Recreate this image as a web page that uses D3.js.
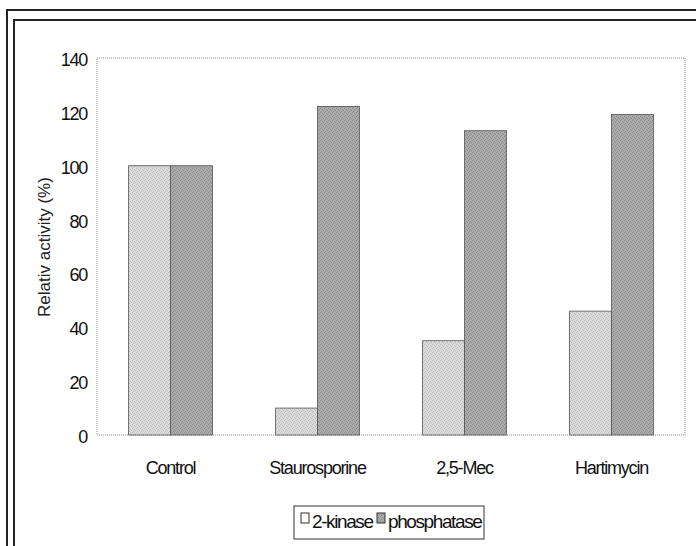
<!DOCTYPE html>
<html>
<head>
<meta charset="utf-8">
<script src="https://cdn.jsdelivr.net/npm/d3@7"></script>
<style>
html,body{margin:0;padding:0;background:#fff;}
svg{display:block;}
</style>
</head>
<body>
<svg id="chart" width="696" height="546"></svg>
<script>
const categories = ["Control", "Staurosporine", "2,5-Mec", "Hartimycin"];
const seriesNames = ["2-kinase", "phosphatase"];
const kinase = [100, 10, 35, 46];
const phosphatase = [100, 122, 113, 119];
const yTicks = [0, 20, 40, 60, 80, 100, 120, 140];

const svg = d3.select("#chart");
const W = 696, H = 546;
const plot = {left: 97, right: 685, top: 58, bottom: 435};
const NF = "Liberation Sans, Arial, sans-serif";

// outer double frame
svg.append("path").attr("d", `M7,${H} V10 H${W}`).attr("fill","none").attr("stroke","#222").attr("stroke-width",2);
svg.append("path").attr("d", `M14,${H} V20 H${W}`).attr("fill","none").attr("stroke","#222").attr("stroke-width",2);

const x = d3.scaleBand().domain(categories).range([plot.left, plot.right]).paddingInner(0.43).paddingOuter(0.215);
const xs = d3.scaleBand().domain(seriesNames).range([0, x.bandwidth()]);
const y = d3.scaleLinear().domain([0, 140]).range([plot.bottom, plot.top]);

// halftone-like patterns
const defs = svg.append("defs");
function pat(id, base, dot){
  const p = defs.append("pattern").attr("id", id).attr("width",4).attr("height",4).attr("patternUnits","userSpaceOnUse");
  p.append("rect").attr("width",4).attr("height",4).attr("fill",base);
  [[0,0],[2,1],[1,3],[3,2]].forEach(([a,b])=>
    p.append("rect").attr("x",a).attr("y",b).attr("width",1).attr("height",1).attr("fill",dot));
}
pat("pk", "#dadada", "#bcbcbc");
pat("pp", "#aaaaaa", "#8c8c8c");
const fills = {"2-kinase":"url(#pk)", "phosphatase":"url(#pp)"};

// plot area dotted border
svg.append("rect").attr("x", plot.left).attr("y", plot.top)
  .attr("width", plot.right - plot.left).attr("height", plot.bottom - plot.top)
  .attr("fill","none").attr("stroke","#8a8a8a").attr("stroke-width",1).attr("stroke-dasharray","1,1");

// bars
const data = categories.map((c,i)=>({cat:c, vals:[{s:"2-kinase", v:kinase[i]},{s:"phosphatase", v:phosphatase[i]}]}));
const g = svg.append("g");
data.forEach(d=>{
  g.selectAll(null).data(d.vals).enter().append("rect")
    .attr("x", v=>x(d.cat)+xs(v.s))
    .attr("y", v=>y(v.v))
    .attr("width", xs.bandwidth())
    .attr("height", v=>y(0)-y(v.v))
    .attr("fill", v=>fills[v.s])
    .attr("stroke","#555").attr("stroke-width",0.8);
});

// y axis
const yAxis = d3.axisLeft(y).tickValues(yTicks).tickSize(0).tickPadding(10);
const ya = svg.append("g").attr("transform", `translate(${plot.left},0)`).call(yAxis)
  .attr("font-family", NF);
ya.select(".domain").remove();
ya.selectAll("text").attr("font-size",18).attr("letter-spacing","-1.3").attr("fill","#111").attr("dy","0.42em");

// x axis
const xAxis = d3.axisBottom(x).tickSize(0).tickPadding(26);
const xa = svg.append("g").attr("transform", `translate(0,${plot.bottom})`).call(xAxis)
  .attr("font-family", NF);
xa.select(".domain").remove();
xa.selectAll("text").attr("font-size",18).attr("letter-spacing","-1.2").attr("fill","#111");

// y title
svg.append("text").attr("transform","translate(50,247) rotate(-90)")
  .attr("text-anchor","middle").attr("font-family",NF)
  .attr("font-size",17).attr("fill","#222").text("Relativ activity (%)");

// legend
const lg = svg.append("g");
lg.append("rect").attr("x",294).attr("y",506).attr("width",190).attr("height",33)
  .attr("fill","#fff").attr("stroke","#333").attr("stroke-width",1);
const legendX = [301, 377];
seriesNames.forEach((s,i)=>{
  lg.append("rect").attr("x",legendX[i]).attr("y",513).attr("width",8).attr("height",10)
    .attr("fill", i===0 ? "#fff" : fills[s]).attr("stroke","#333").attr("stroke-width",1);
  lg.append("text").attr("x",legendX[i]+11).attr("y",528).attr("font-family",NF)
    .attr("font-size",19).attr("letter-spacing","-1.4").attr("fill","#111").text(s);
});
</script>
</body>
</html>
